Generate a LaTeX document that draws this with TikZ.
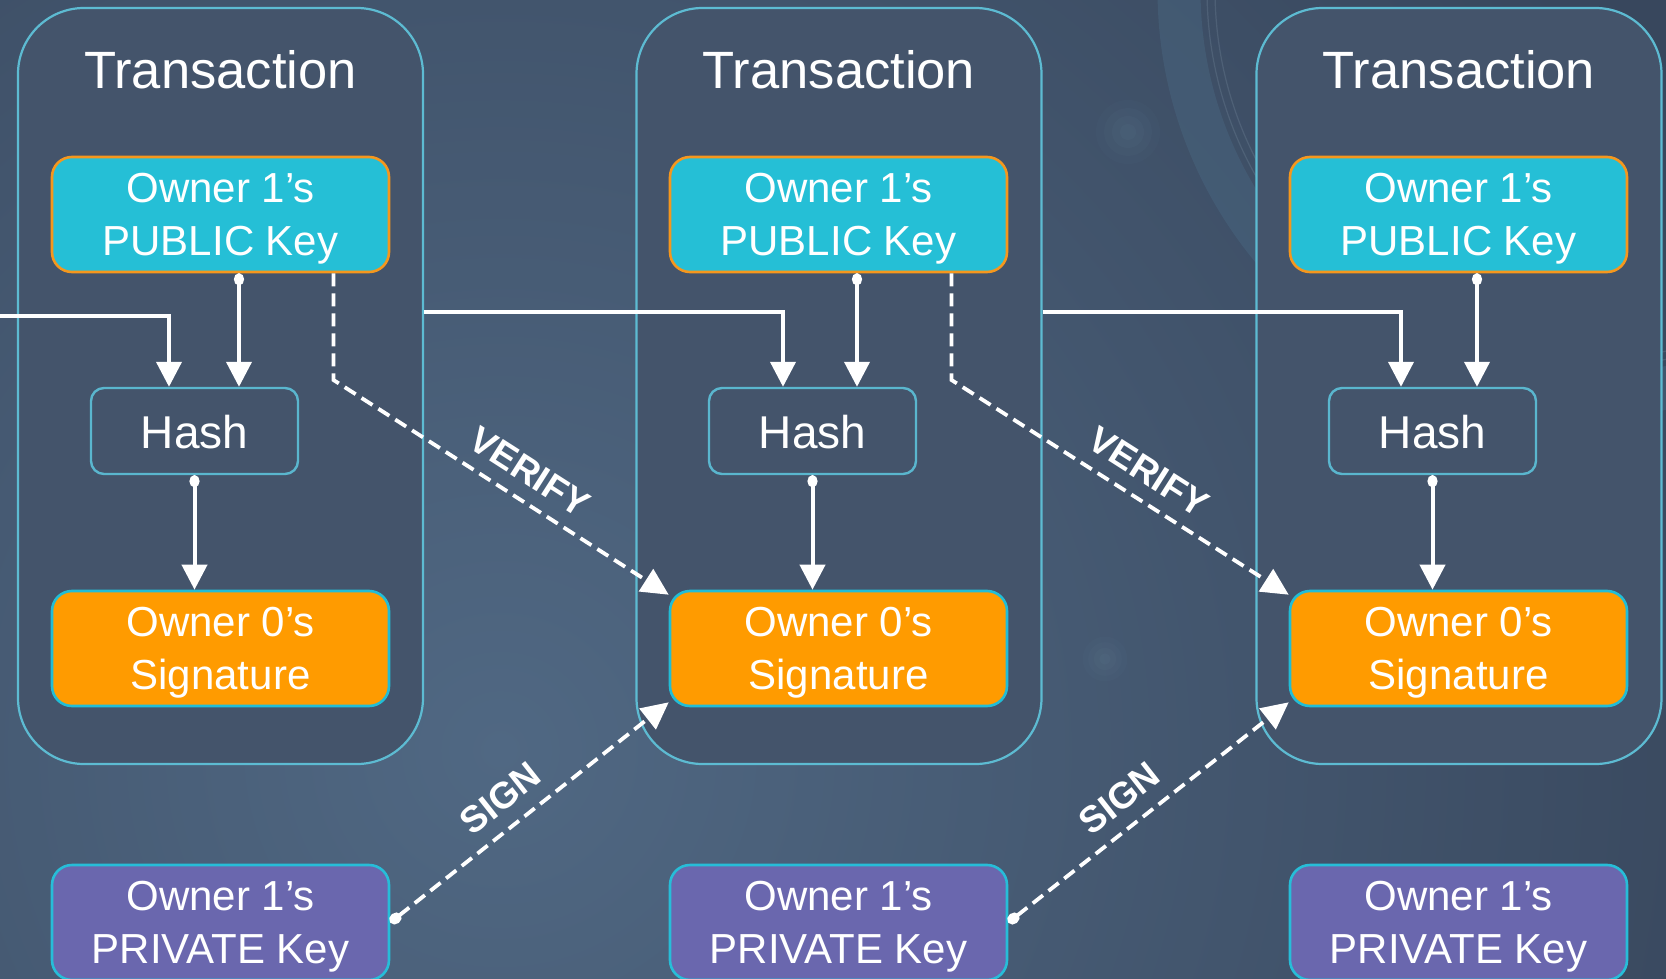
\documentclass[tikz,border=0pt]{standalone}
\usepackage{fontspec}
\setmainfont{Liberation Sans}
\usetikzlibrary{arrows.meta,calc}
\definecolor{bgIn}{HTML}{506883}
\definecolor{bgOut}{HTML}{38475D}
\definecolor{boxFill}{HTML}{44546B}
\definecolor{boxLine}{HTML}{5DBBD2}
\definecolor{pubFill}{HTML}{25BFD6}
\definecolor{pubLine}{HTML}{F5971D}
\definecolor{sigFill}{HTML}{FF9B00}
\definecolor{sigLine}{HTML}{22BDD5}
\definecolor{privFill}{HTML}{6A67AE}
\definecolor{privLine}{HTML}{27BDD8}
\definecolor{hashLine}{HTML}{5AB6CE}
\definecolor{ringCol}{HTML}{4A6882}
\definecolor{glowCol}{HTML}{6F90A6}
\newcommand{\kboxstrut}{\rule{0pt}{37.5pt}}
\newcommand{\hboxstrut}{\rule{0pt}{36pt}}
\begin{document}
\begin{tikzpicture}[x=1pt,y=-1pt,
  container/.style={draw=boxLine, line width=2.2pt, fill=boxFill, rounded corners=66pt, minimum width=405pt, minimum height=756pt, inner sep=0pt},
  titletext/.style={text=white, font=\fontsize{52.5}{60}\selectfont, inner sep=0pt, anchor=base},
  keybox/.style={line width=2.6pt, rounded corners=20pt, minimum width=337pt, minimum height=115pt, inner sep=0pt, align=center, text=white, font=\fontsize{42}{52.7}\selectfont},
  pubkey/.style={keybox, draw=pubLine, fill=pubFill},
  sigbox/.style={keybox, draw=sigLine, fill=sigFill},
  privkey/.style={keybox, draw=privLine, fill=privFill},
  hashbox/.style={draw=hashLine, line width=2.4pt, fill=boxFill, rounded corners=13pt, minimum width=207pt, minimum height=86pt, inner sep=0pt, text=white, font=\fontsize{46}{55}\selectfont},
  conn/.style={draw=white, line width=4pt, -{Triangle[width=25pt,length=25pt]}},
  dotconn/.style={draw=white, line width=4pt, {Ellipse[width=10pt,length=12pt]}-{Triangle[width=25pt,length=25pt]}},
  dashconn/.style={draw=white, line width=3.8pt, dash pattern=on 13pt off 7pt, -{Triangle[width=26pt,length=27pt]}},
  signconn/.style={draw=white, line width=3.8pt, dash pattern=on 13pt off 7pt, {Ellipse[width=11pt,length=13pt]}-{Triangle[width=26pt,length=27pt]}},
  lbl/.style={text=white, font=\bfseries\fontsize{37}{44}\selectfont, sloped, above, inner xsep=0pt, inner ysep=14pt}
]
\coordinate (bgNW) at (0,0);
\coordinate (bgSE) at (1666,979);
\useasboundingbox (bgNW) rectangle (bgSE);
\fill[bgOut] (bgNW) rectangle (bgSE);
\begin{scope}
  \clip (bgNW) rectangle (bgSE);
  \shade[inner color=bgIn, outer color=bgOut] (500,750) circle (1300);
  \draw[ringCol, line width=43pt, opacity=0.45] (1585,-10) circle (406);
  \draw[ringCol!70!white, line width=1.2pt, opacity=0.25] (1585,-10) circle (378);
  \draw[ringCol!70!white, line width=1.2pt, opacity=0.25] (1585,-10) circle (370);
  \foreach \r/\o in {32/0.04, 24/0.05, 16/0.06, 8/0.07} {
    \fill[glowCol, opacity=\o] (1128,132) circle (\r);
    \fill[glowCol, opacity=\o] (1105,659) circle (0.7*\r);
  }
\end{scope}

% containers
\node[container] (t1) at (220.5,386) {};
\node[container] (t2) at (839,386) {};
\node[container] (t3) at (1459,386) {};
\node[titletext] (ti1) at (220.5,89) {Transaction};
\node[titletext] (ti2) at (839,89) {Transaction};
\node[titletext] (ti3) at (1459,89) {Transaction};

% public keys
\node[pubkey] (pub1) at (220.5,214.5) {\kboxstrut Owner 1’s\\PUBLIC Key};
\node[pubkey] (pub2) at (838.5,214.5) {\kboxstrut Owner 1’s\\PUBLIC Key};
\node[pubkey] (pub3) at (1458.5,214.5) {\kboxstrut Owner 1’s\\PUBLIC Key};

% hashes
\node[hashbox] (hash1) at (194.5,431) {\hboxstrut Hash};
\node[hashbox] (hash2) at (812.5,431) {\hboxstrut Hash};
\node[hashbox] (hash3) at (1432.5,431) {\hboxstrut Hash};

% signatures
\node[sigbox] (sig1) at (220.5,648.5) {\kboxstrut Owner 0’s\\Signature};
\node[sigbox] (sig2) at (838.5,648.5) {\kboxstrut Owner 0’s\\Signature};
\node[sigbox] (sig3) at (1458.5,648.5) {\kboxstrut Owner 0’s\\Signature};

% private keys
\node[privkey] (priv1) at (220.5,922.5) {\kboxstrut Owner 1’s\\PRIVATE Key};
\node[privkey] (priv2) at (838.5,922.5) {\kboxstrut Owner 1’s\\PRIVATE Key};
\node[privkey] (priv3) at (1458.5,922.5) {\kboxstrut Owner 1’s\\PRIVATE Key};

% public key -> hash, hash -> signature
\foreach \i in {1,2,3} {
  \coordinate (pa\i) at ([xshift=18.5pt]pub\i.south);
  \draw[dotconn] (pa\i) -- (pa\i |- hash\i.north);
  \draw[dotconn] (hash\i.south) -- (hash\i.south |- sig\i.north);
}

% chain of transactions
\coordinate (in0) at (0,316);
\coordinate (row) at (0,312);
\coordinate (hi1) at ([xshift=-25.5pt]hash1.north);
\coordinate (hi2) at ([xshift=-29.5pt]hash2.north);
\coordinate (hi3) at ([xshift=-31.5pt]hash3.north);
\draw[conn] (in0) -| (hi1);
\draw[conn] (t1.east |- row) -| (hi2);
\draw[conn] (t2.east |- row) -| (hi3);

% verify
\coordinate (kink) at (0,380);
\coordinate (va1) at ([xshift=113pt]pub1.south);
\coordinate (va2) at ([xshift=113pt]pub2.south);
\draw[dashconn] (va1) -- (va1 |- kink) -- node[lbl, pos=0.54] {VERIFY} ([yshift=-5pt]sig2.north west);
\draw[dashconn] (va2) -- (va2 |- kink) -- node[lbl, pos=0.54] {VERIFY} ([yshift=-5pt]sig3.north west);

% sign
\draw[signconn] (priv1.east) -- node[lbl, pos=0.46] {SIGN} ([yshift=5pt]sig2.south west);
\draw[signconn] (priv2.east) -- node[lbl, pos=0.46] {SIGN} ([yshift=5pt]sig3.south west);
\end{tikzpicture}
\end{document}
